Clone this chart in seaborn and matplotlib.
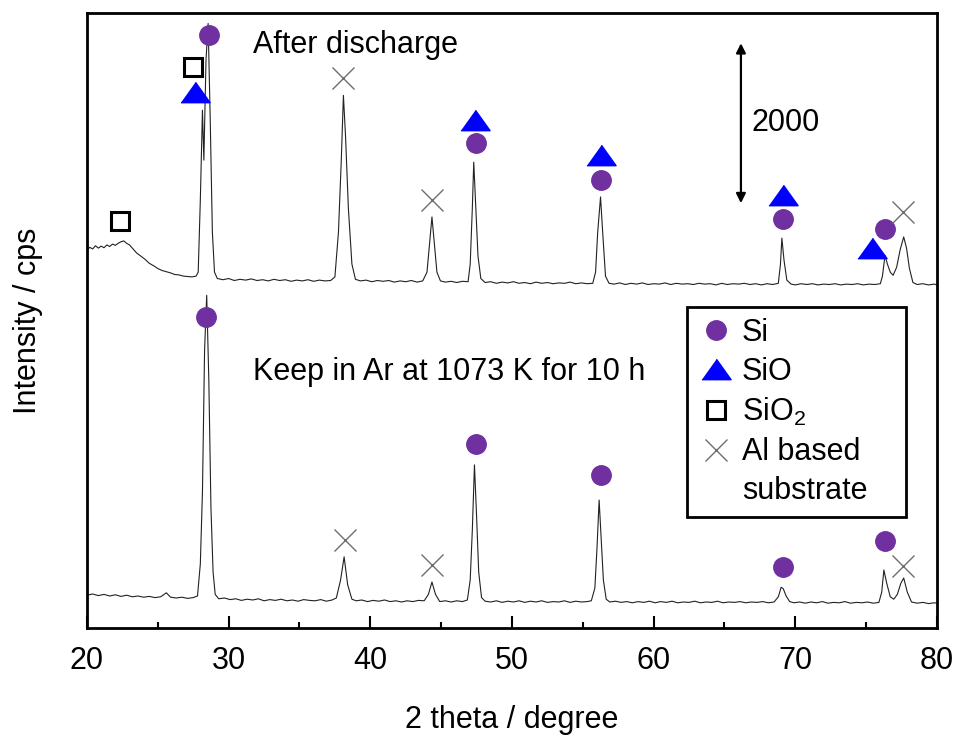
import matplotlib
matplotlib.use("Agg")
import matplotlib.pyplot as plt
from matplotlib.lines import Line2D
from matplotlib.ticker import MultipleLocator
import seaborn as sns

sns.set_style("white")
plt.rcParams['font.family'] = ['Liberation Sans', 'DejaVu Sans']
plt.rcParams['mathtext.fontset'] = 'custom'
plt.rcParams['mathtext.rm'] = 'Liberation Sans'
plt.rcParams['text.color'] = 'black'
plt.rcParams['axes.labelcolor'] = 'black'
plt.rcParams['xtick.color'] = 'black'

# lower trace: kept in Ar at 1073 K for 10 h (cps)
keep_theta = [20.0, 20.4, 20.8, 21.2, 21.6, 22.0, 22.4, 22.8, 23.2, 23.6, 24.0, 24.4, 24.8, 25.2, 25.6, 25.9,
              26.3, 26.7, 27.1, 27.5, 27.8, 28.0, 28.15, 28.3, 28.45, 28.6, 28.75, 28.9, 29.05, 29.3, 29.7,
              30.1, 30.5, 30.9, 31.3, 31.7, 32.1, 32.5, 32.9, 33.3, 33.7, 34.1, 34.5, 34.9, 35.3, 35.7, 36.1,
              36.5, 36.9, 37.3, 37.6, 37.9, 38.15, 38.4, 38.7, 39.0, 39.4, 39.8, 40.2, 40.6, 41.0, 41.4, 41.8,
              42.2, 42.6, 43.0, 43.4, 43.8, 44.1, 44.35, 44.6, 44.9, 45.3, 45.7, 46.1, 46.5, 46.85, 47.05,
              47.2, 47.35, 47.5, 47.65, 47.85, 48.1, 48.5, 48.9, 49.3, 49.7, 50.1, 50.5, 50.9, 51.3, 51.7,
              52.1, 52.5, 52.9, 53.3, 53.7, 54.1, 54.5, 54.9, 55.3, 55.6, 55.85, 56.0, 56.15, 56.3, 56.45,
              56.65, 56.9, 57.3, 57.7, 58.1, 58.5, 58.9, 59.3, 59.7, 60.1, 60.5, 60.9, 61.3, 61.7, 62.1, 62.5,
              62.9, 63.3, 63.7, 64.1, 64.5, 64.9, 65.3, 65.7, 66.1, 66.5, 66.9, 67.3, 67.7, 68.1, 68.5, 68.8,
              69.0, 69.15, 69.35, 69.6, 69.9, 70.3, 70.7, 71.1, 71.5, 71.9, 72.3, 72.7, 73.1, 73.5, 73.9,
              74.3, 74.7, 75.1, 75.5, 75.9, 76.1, 76.25, 76.45, 76.7, 76.95, 77.2, 77.45, 77.65, 77.9, 78.2,
              78.6, 79.0, 79.4, 79.8, 80.0]
keep_cps = [410, 425, 405, 420, 400, 415, 395, 410, 390, 400, 385, 395, 380, 390, 440, 385,
            375, 385, 370, 380, 400, 800, 1700, 3475, 4160, 3100, 1500, 700, 420, 365, 375,
            355, 365, 345, 360, 350, 365, 340, 355, 345, 360, 340, 350, 335, 355, 345, 340,
            355, 335, 350, 375, 600, 890, 540, 360, 340, 350, 330, 345, 335, 350, 330, 340,
            325, 340, 330, 345, 340, 420, 575, 420, 330, 340, 325, 340, 330, 350, 600,
            1225, 2040, 1400, 700, 380, 335, 325, 340, 320, 335, 325, 340, 320, 335, 325,
            340, 320, 330, 325, 340, 320, 335, 325, 330, 340, 500, 1000, 1600, 1100, 600,
            360, 325, 335, 320, 330, 315, 330, 320, 335, 315, 330, 320, 335, 315, 325, 320,
            335, 315, 325, 320, 335, 315, 325, 320, 330, 315, 325, 320, 330, 315, 325, 390,
            510, 490, 400, 330, 315, 325, 310, 325, 315, 330, 310, 320, 315, 330, 310,
            320, 315, 325, 310, 320, 450, 725, 560, 390, 360, 420, 560, 625, 450, 325,
            310, 320, 305, 315, 310]

# upper trace: after discharge (cps, drawn shifted by after_offset)
after_offset = 3950
after_theta = [20.0, 20.2, 20.4, 20.6, 20.8, 21.0, 21.2, 21.4, 21.6, 21.8, 22.0, 22.2, 22.4, 22.6, 22.8, 23.0,
               23.2, 23.5, 23.8, 24.1, 24.4, 24.7, 25.0, 25.3, 25.6, 25.9, 26.2, 26.5, 26.8, 27.1, 27.4, 27.7,
               27.85, 28.0, 28.15, 28.25, 28.4, 28.55, 28.7, 28.85, 29.0, 29.2, 29.6, 30.0, 30.4, 30.8, 31.2,
               31.6, 32.0, 32.4, 32.8, 33.2, 33.6, 34.0, 34.4, 34.8, 35.2, 35.6, 36.0, 36.4, 36.8, 37.2, 37.5,
               37.75, 37.95, 38.1, 38.25, 38.45, 38.7, 38.95, 39.3, 39.7, 40.1, 40.5, 40.9, 41.3, 41.7, 42.1,
               42.5, 42.9, 43.3, 43.7, 44.0, 44.2, 44.35, 44.5, 44.7, 44.95, 45.3, 45.7, 46.1, 46.5, 46.9,
               47.05, 47.2, 47.3, 47.45, 47.6, 47.8, 48.1, 48.5, 48.9, 49.3, 49.7, 50.1, 50.5, 50.9, 51.3,
               51.7, 52.1, 52.5, 52.9, 53.3, 53.7, 54.1, 54.5, 54.9, 55.3, 55.7, 55.9, 56.05, 56.25, 56.4,
               56.6, 56.85, 57.2, 57.6, 58.0, 58.4, 58.8, 59.2, 59.6, 60.0, 60.4, 60.8, 61.2, 61.6, 62.0,
               62.4, 62.8, 63.2, 63.6, 64.0, 64.4, 64.8, 65.2, 65.6, 66.0, 66.4, 66.8, 67.2, 67.6, 68.0, 68.4,
               68.8, 68.95, 69.05, 69.2, 69.4, 69.7, 70.0, 70.4, 70.8, 71.2, 71.6, 72.0, 72.4, 72.8, 73.2,
               73.6, 74.0, 74.4, 74.8, 75.2, 75.6, 76.0, 76.15, 76.33, 76.5, 76.7, 76.9, 77.15, 77.4, 77.65,
               77.85, 78.05, 78.3, 78.6, 79.0, 79.4, 79.8, 80.0]
after_cps = [775, 810, 790, 830, 800, 825, 805, 840, 820, 850, 835, 860, 880, 890, 860, 840,
             800, 740, 700, 660, 610, 580, 545, 520, 505, 490, 470, 465, 450, 445, 440, 450,
             500, 1400, 2525, 1900, 3150, 3610, 2400, 1000, 500, 420, 405, 420, 395, 410, 400,
             415, 395, 405, 390, 410, 395, 405, 385, 400, 390, 405, 385, 400, 390, 395, 440,
             1000, 1900, 2710, 2200, 1300, 600, 410, 390, 400, 380, 395, 385, 395, 375, 390,
             380, 395, 375, 390, 500, 900, 1190, 900, 500, 390, 375, 385, 370, 385, 380,
             600, 1300, 1875, 1300, 700, 420, 370, 380, 360, 375, 365, 380, 360, 370, 355,
             375, 360, 370, 355, 365, 360, 375, 355, 365, 355, 360, 500, 1000, 1440, 1000,
             450, 360, 350, 365, 345, 360, 350, 365, 345, 355, 350, 365, 345, 360, 350,
             355, 345, 360, 350, 355, 340, 360, 345, 355, 350, 360, 345, 355, 340, 355, 345,
             360, 600, 925, 650, 400, 350, 340, 355, 345, 355, 340, 350, 345, 355, 340,
             350, 345, 355, 340, 350, 345, 355, 450, 710, 600, 500, 460, 560, 780, 940,
             800, 550, 370, 345, 355, 340, 350, 340]

# phase markers (2 theta, displayed cps)
si_theta = [28.6, 47.45, 56.3, 69.1, 76.33, 28.4, 47.45, 56.3, 69.1, 76.33]
si_cps = [7410, 6060, 5600, 5110, 4990, 3890, 2300, 1910, 760, 1090]
sio_theta = [27.6, 47.4, 56.3, 69.1, 75.4]
sio_cps = [6700, 6350, 5910, 5410, 4750]
sio2_theta = [22.3, 27.5]
sio2_cps = [5090, 7010]
al_theta = [38.1, 44.35, 77.6, 38.2, 44.35, 77.6]
al_cps = [6880, 5350, 5200, 1100, 790, 775]

si_color = '#7030A0'
sio_color = '#0000FF'
al_color = '#6E6E6E'
tri = [(-1, -0.7), (1, -0.7), (0, 0.7)]

fig = plt.figure(figsize=(9.57, 7.35), dpi=100)
ax = fig.add_axes([0.0909, 0.1456, 0.8882, 0.8367])

sns.lineplot(x=keep_theta, y=keep_cps, sort=False, estimator=None, color='#222222', lw=0.8, ax=ax)
sns.lineplot(x=after_theta, y=[c + after_offset for c in after_cps], sort=False, estimator=None,
             color='#222222', lw=0.8, ax=ax)

ax.plot(si_theta, si_cps, ls='none', marker='o', ms=14, color=si_color, zorder=5)
ax.plot(sio_theta, sio_cps, ls='none', marker=tri, ms=21, color=sio_color, zorder=5)
ax.plot(sio2_theta, sio2_cps, ls='none', marker='s', ms=13, mfc='white', mec='black', mew=2.2, zorder=5)
ax.plot(al_theta, al_cps, ls='none', marker='x', ms=16, mew=1.0, color=al_color, zorder=5)

ax.text(31.7, 7290, 'After discharge', fontsize=22, va='center', ha='left')
ax.text(31.7, 3200, 'Keep in Ar at 1073 K for 10 h', fontsize=22, va='center', ha='left')
ax.annotate('', xy=(66.16, 7312), xytext=(66.16, 5312),
            arrowprops=dict(arrowstyle='<|-|>', color='black', lw=1.6, mutation_scale=14, shrinkA=0, shrinkB=0))
ax.text(66.9, 6310, '2000', fontsize=22, va='center', ha='left')

ax.set_xlim(20, 80)
ax.set_ylim(0, 7690)
ax.xaxis.set_major_locator(MultipleLocator(10))
ax.xaxis.set_minor_locator(MultipleLocator(5))
ax.tick_params(axis='x', which='major', direction='in', length=9, width=1.5, labelsize=22, pad=13, bottom=True)
ax.tick_params(axis='x', which='minor', direction='in', length=4.5, width=1.5, bottom=True)
ax.set_yticks([])
for s in ax.spines.values():
    s.set_color('black')
    s.set_linewidth(2)

ax.set_xlabel('2 theta / degree', fontsize=22, labelpad=21)
ax.set_ylabel('Intensity / cps', fontsize=22, labelpad=32)

handles = [
    Line2D([], [], ls='none', marker='o', ms=14, color=si_color),
    Line2D([], [], ls='none', marker=tri, ms=21, color=sio_color),
    Line2D([], [], ls='none', marker='s', ms=13, mfc='white', mec='black', mew=2.2),
    Line2D([], [], ls='none', marker='x', ms=16, mew=1.0, color=al_color),
    Line2D([], [], ls='none'),
]
labels = ['Si', 'SiO', r'SiO$_\mathregular{2}$', 'Al based', 'substrate']
leg = ax.legend(handles, labels, loc='upper left', bbox_to_anchor=(0.706, 0.1886, 0.2576, 0.3334),
                mode='expand', borderaxespad=0, fontsize=22, frameon=True, fancybox=False,
                framealpha=1, edgecolor='black', borderpad=0.35, labelspacing=0.3,
                handlelength=1.2, handletextpad=0.25)
leg.get_frame().set_linewidth(2)

fig.savefig('out.png', dpi=100)
